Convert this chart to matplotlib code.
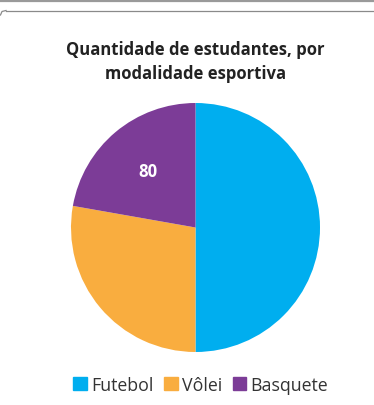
import matplotlib
matplotlib.use('Agg')
import matplotlib.pyplot as plt
import numpy as np
from matplotlib.lines import Line2D

plt.rcParams['font.family'] = ['Open Sans', 'DejaVu Sans']

# data
categories = ['Futebol', 'Vôlei', 'Basquete']
students = [180, 100, 80]
shown_labels = ['', '', '80']
colors = ['#00AEEF', '#F9AD3F', '#7C3C97']
title = 'Quantidade de estudantes, por\nmodalidade esportiva'

W, H = 374, 406
fig = plt.figure(figsize=(W / 100, H / 100), dpi=100)
fig.patch.set_facecolor('white')

# page frame lines at the top
fig.add_artist(Line2D([0, 1], [1 - 1.5 / H, 1 - 1.5 / H], color='#9a9a9a', lw=1.6))
fig.add_artist(Line2D([6 / W, 1], [1 - 11.5 / H, 1 - 11.5 / H], color='#8a8a8a', lw=0.9))
fig.add_artist(Line2D([0.5 / W, 2 / W, 6 / W], [1 - 16 / H, 1 - 12.5 / H, 1 - 11.5 / H],
                      color='#8a8a8a', lw=0.9))

fig.text(0.522, 1 - 62 / H, title, ha='center', va='center', fontsize=12,
         fontweight='bold', color='#222222', linespacing=1.45)

# pie axes: center (195, 228) px, radius 124 px
cx, cy, r = 195.5, 228.5, 124.5
ax = fig.add_axes([(cx - r) / W, 1 - (cy + r) / H, 2 * r / W, 2 * r / H])
wedges, _ = ax.pie(students, colors=colors, startangle=90, counterclock=False,
                   radius=1, wedgeprops=dict(linewidth=0))
ax.set_xlim(-1, 1)
ax.set_ylim(-1, 1)
ax.set_aspect('equal')
ax.axis('off')

for w, lab in zip(wedges, shown_labels):
    if not lab:
        continue
    mid = np.deg2rad((w.theta1 + w.theta2) / 2)
    ax.text(0.59 * np.cos(mid), 0.59 * np.sin(mid), lab, ha='center', va='center',
            fontsize=12, fontweight='bold', color='white')

handles = [plt.Rectangle((0, 0), 1, 1, color=c) for c in colors]
fig.legend(handles, categories, loc='center', bbox_to_anchor=(0.537, 1 - 386 / H),
           ncol=3, frameon=False, fontsize=12.8, handlelength=0.75, handleheight=0.75,
           handletextpad=0.25, columnspacing=0.6, labelcolor='#333333')

fig.savefig('out.png', dpi=100, facecolor='white')
